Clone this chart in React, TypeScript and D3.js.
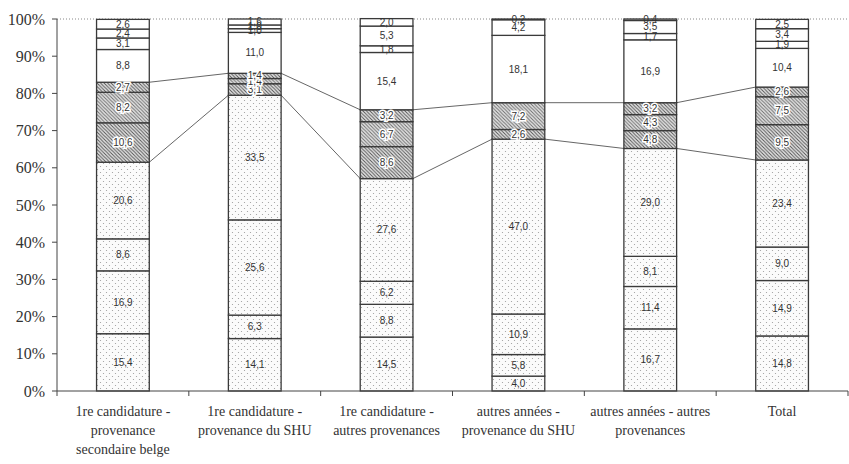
import { useEffect, useRef } from 'react';
import * as d3 from 'd3';

// categories (x axis), each split into lines
const categories = [
  ['1re candidature -', 'provenance', 'secondaire belge'],
  ['1re candidature -', 'provenance du SHU'],
  ['1re candidature -', 'autres provenances'],
  ['autres années -', 'provenance du SHU'],
  ['autres années - autres', 'provenances'],
  ['Total'],
];

// stacked values per bar, bottom to top (11 segments)
const secBelge1re = [15.4, 16.9, 8.6, 20.6, 10.6, 8.2, 2.7, 8.8, 3.1, 2.4, 2.6];
const shu1re = [14.1, 6.3, 25.6, 33.5, 3.1, 1.4, 1.4, 11.0, 1.0, 1.0, 1.6];
const autres1re = [14.5, 8.8, 6.2, 27.6, 8.6, 6.7, 3.2, 15.4, 1.8, 5.3, 2.0];
const shuAutresAnnees = [4.0, 5.8, 10.9, 47.0, 2.6, 7.2, 0, 18.1, 0, 4.2, 0.2];
const autresAutresAnnees = [16.7, 11.4, 8.1, 29.0, 4.8, 4.3, 3.2, 16.9, 1.7, 3.5, 0.4];
const totalBar = [14.8, 14.9, 9.0, 23.4, 9.5, 7.5, 2.6, 10.4, 1.9, 3.4, 2.5];

const bars = [secBelge1re, shu1re, autres1re, shuAutresAnnees, autresAutresAnnees, totalBar];
const yTicks = [0, 10, 20, 30, 40, 50, 60, 70, 80, 90, 100];
// segment fill kinds
const segmentKinds = ['dots', 'dots', 'dots', 'dots', 'hatch1', 'hatch2', 'hatch1', 'plain', 'plain', 'plain', 'plain'];
// series lines drawn at the top of these segments
const seriesLineAt = [3, 6];

export default function App() {
  const svgRef = useRef<SVGSVGElement>(null);

  useEffect(() => {
    const svg = d3.select(svgRef.current);
    svg.selectAll('*').remove();

    const left = 57;
    const right = 848;
    const top = 19;
    const bottom = 391;

    const defs = svg.append('defs');
    const dots = defs.append('pattern').attr('id', 'dots').attr('patternUnits', 'userSpaceOnUse')
      .attr('width', 6).attr('height', 6);
    dots.append('rect').attr('width', 6).attr('height', 6).attr('fill', '#fbfbfb');
    dots.append('circle').attr('cx', 1.5).attr('cy', 1.5).attr('r', 0.6).attr('fill', '#9a9a9a');
    dots.append('circle').attr('cx', 4.5).attr('cy', 4.5).attr('r', 0.6).attr('fill', '#9a9a9a');

    [['hatch1', '#555'], ['hatch2', '#6e6e6e']].forEach(([id, col]) => {
      const p = defs.append('pattern').attr('id', id).attr('patternUnits', 'userSpaceOnUse')
        .attr('width', 3.5).attr('height', 3.5);
      p.append('rect').attr('width', 3.5).attr('height', 3.5).attr('fill', '#e4e4e4');
      p.append('path').attr('d', 'M-1,-1 L4.5,4.5 M2.5,-1 L4.5,1 M-1,2.5 L1,4.5')
        .attr('stroke', col).attr('stroke-width', 1);
    });

    const fillFor = (k: string) => (k === 'plain' ? '#fff' : `url(#${k})`);

    const x = d3.scaleBand<number>().domain(d3.range(bars.length)).range([left, right])
      .paddingInner(0.6).paddingOuter(0.3);
    const y = d3.scaleLinear().domain([0, 100]).range([bottom, top]);

    const keys = segmentKinds.map((_, i) => `s${i}`);
    const rows = bars.map((vals) => {
      const r: Record<string, number> = {};
      vals.forEach((v, i) => (r[`s${i}`] = v));
      return r;
    });
    const series = d3.stack<Record<string, number>>().keys(keys)(rows);

    // 100% dotted gridline
    svg.append('line').attr('x1', left).attr('x2', right).attr('y1', y(100)).attr('y2', y(100))
      .attr('stroke', '#888').attr('stroke-dasharray', '1,2');

    // series lines
    seriesLineAt.forEach((si) => {
      for (let i = 0; i < bars.length - 1; i++) {
        svg.append('line')
          .attr('x1', x(i)! + x.bandwidth()).attr('y1', y(series[si][i][1]))
          .attr('x2', x(i + 1)!).attr('y2', y(series[si][i + 1][1]))
          .attr('stroke', '#555').attr('stroke-width', 0.9);
      }
    });

    // segments
    series.forEach((s, si) => {
      svg.append('g').selectAll('rect').data(s).enter().append('rect')
        .attr('x', (_, i) => x(i)!)
        .attr('y', (d) => y(d[1]))
        .attr('width', x.bandwidth())
        .attr('height', (d) => y(d[0]) - y(d[1]))
        .attr('fill', fillFor(segmentKinds[si]))
        .attr('stroke', '#3a3a3a').attr('stroke-width', 1.3);
    });

    // value labels
    series.forEach((s, si) => {
      const hatched = segmentKinds[si].startsWith('hatch');
      s.forEach((d, i) => {
        const v = bars[i][si];
        if (!v) return;
        const t = svg.append('text')
          .attr('x', x(i)! + x.bandwidth() / 2)
          .attr('y', y((d[0] + d[1]) / 2))
          .attr('dy', '0.35em')
          .attr('text-anchor', 'middle')
          .attr('font-family', 'Liberation Sans, Arial, sans-serif')
          .attr('font-size', 10)
          .attr('fill', '#333')
          .text(d3.format('.1f')(v).replace('.', ','));
        if (hatched) {
          t.attr('stroke', '#fff').attr('stroke-width', 3).attr('paint-order', 'stroke');
        }
      });
    });

    // y axis
    svg.append('line').attr('x1', left).attr('x2', left).attr('y1', top).attr('y2', bottom)
      .attr('stroke', '#444');
    yTicks.forEach((t) => {
      svg.append('line').attr('x1', left - 5).attr('x2', left).attr('y1', y(t)).attr('y2', y(t))
        .attr('stroke', '#444');
      svg.append('text').attr('x', left - 12).attr('y', y(t)).attr('dy', '0.35em')
        .attr('text-anchor', 'end').attr('font-family', 'Liberation Serif, Times New Roman, serif')
        .attr('font-size', 16).attr('fill', '#333').text(`${t}%`);
    });

    // x axis
    svg.append('line').attr('x1', left).attr('x2', right).attr('y1', bottom).attr('y2', bottom)
      .attr('stroke', '#444');
    const step = x.step();
    d3.range(bars.length + 1).forEach((k) => {
      const xx = left + k * step;
      svg.append('line').attr('x1', xx).attr('x2', xx).attr('y1', bottom).attr('y2', bottom + 5)
        .attr('stroke', '#444');
    });

    categories.forEach((lines, i) => {
      const t = svg.append('text')
        .attr('text-anchor', 'middle')
        .attr('font-family', 'Liberation Serif, Times New Roman, serif')
        .attr('font-size', 14).attr('fill', '#333');
      lines.forEach((ln, j) => {
        t.append('tspan').attr('x', x(i)! + x.bandwidth() / 2).attr('y', 416 + j * 19).text(ln);
      });
    });
  }, []);

  return (
    <svg ref={svgRef} width="849" height="464"
      style={{ position: 'absolute', left: 0, top: 0, background: '#fff' }} />
  );
}
